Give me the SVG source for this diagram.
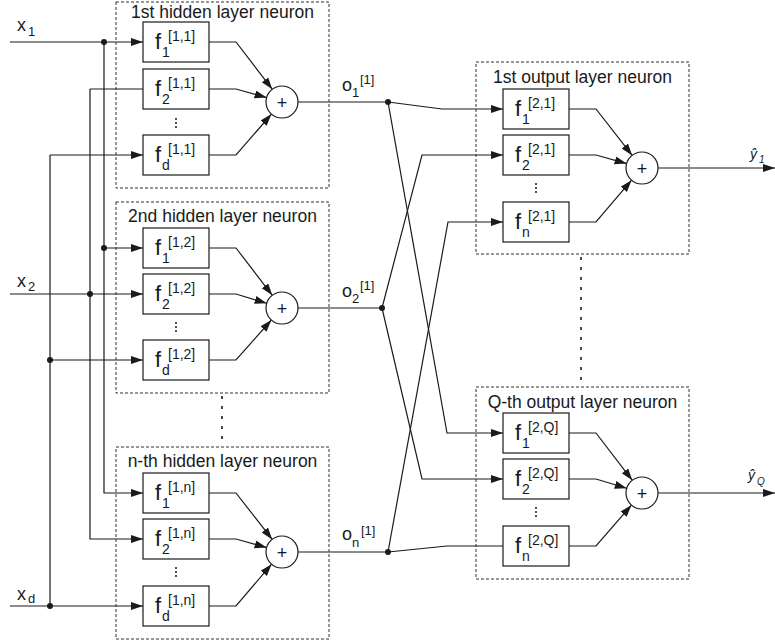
<svg xmlns="http://www.w3.org/2000/svg" width="775" height="643" viewBox="0 0 775 643">
<defs>
<marker id="ar" markerUnits="userSpaceOnUse" markerWidth="13" markerHeight="9" refX="12" refY="4" orient="auto">
<path d="M0,0 L12,4 L0,8 z" fill="#1a1a1a"/>
</marker>
<style>
text{font-family:"Liberation Sans",Arial,sans-serif;fill:#1a1a1a}
.lbl{font-size:17.5px;text-anchor:middle}
.grp{fill:none;stroke:#333;stroke-width:1;stroke-dasharray:3 2}
.fb{fill:#fff;stroke:#1a1a1a;stroke-width:1.2}
.sum{fill:#fff;stroke:#1a1a1a;stroke-width:1.2}
.ln{fill:none;stroke:#1a1a1a;stroke-width:1.2}
.arw{fill:none;stroke:#1a1a1a;stroke-width:1.2;marker-end:url(#ar)}
.dot{fill:#1a1a1a}
.vd{fill:none;stroke:#1a1a1a;stroke-width:1.5;stroke-dasharray:2 2}
.sep{fill:none;stroke:#1a1a1a;stroke-width:1.6;stroke-dasharray:3 7}
.f{font-size:22px}
.s{font-size:14px}
.plus{font-size:18px;text-anchor:middle}
.big{font-size:18px}
.sm{font-size:13px}
.yh{font-size:14px;font-style:italic}
.ys{font-size:10px;font-style:italic}
</style>
</defs>

<g id="connectors">
<path class="arw" d="M10,42 H143"/>
<path class="arw" d="M104,42 V493 H143"/>
<path class="arw" d="M104,248 H143"/>
<path class="ln" d="M90,89 H143"/>
<path class="arw" d="M90,89 V539 H143"/>
<path class="arw" d="M10,294 H143"/>
<path class="arw" d="M50,155 H143"/>
<path class="ln" d="M50,155 V606"/>
<path class="arw" d="M50,360 H143"/>
<path class="arw" d="M10,606 H143"/>
<circle class="dot" cx="104" cy="42" r="3"/>
<circle class="dot" cx="104" cy="248" r="3"/>
<circle class="dot" cx="90" cy="294" r="3"/>
<circle class="dot" cx="50" cy="360" r="3"/>
<circle class="dot" cx="50" cy="606" r="3"/>
<path class="arw" d="M209,42 H236 L272.3,89.3"/>
<path class="arw" d="M209,89 H236 L266.6,97.6"/>
<path class="arw" d="M209,155 H236 L271.5,114.1"/>
<path class="arw" d="M209,248 H236 L272.3,295.3"/>
<path class="arw" d="M209,294 H236 L266.7,303.3"/>
<path class="arw" d="M209,360 H236 L271.4,320"/>
<path class="arw" d="M209,493 H236 L272.2,539.4"/>
<path class="arw" d="M209,539 H236 L266.6,547.6"/>
<path class="arw" d="M209,606 H236 L271.6,564.2"/>
<path class="ln" d="M298,102 H388"/>
<path class="ln" d="M298,308 H382"/>
<path class="ln" d="M298,552 H388"/>
<path class="arw" d="M388,102 L442,109 H503"/>
<path class="arw" d="M388,102 L447,433 H503"/>
<path class="arw" d="M382,308 L422,155 H503"/>
<path class="arw" d="M382,308 L422,479 H503"/>
<path class="arw" d="M388,552 L448,222 H503"/>
<path class="ln" d="M388,552 L447,546 H503"/>
<circle class="dot" cx="388" cy="102" r="3"/>
<circle class="dot" cx="382" cy="308" r="3"/>
<circle class="dot" cx="388" cy="552" r="3"/>
<path class="arw" d="M569,109 H596 L632.2,155.4"/>
<path class="arw" d="M569,155 H596 L626.6,163.6"/>
<path class="arw" d="M569,222 H596 L631.6,180.2"/>
<path class="arw" d="M569,433 H596 L632.3,480.3"/>
<path class="arw" d="M569,479 H596 L626.7,488.3"/>
<path class="arw" d="M569,546 H596 L631.5,505.1"/>
<path class="arw" d="M658,168 H775"/>
<path class="arw" d="M658,493 H775"/>
<path class="sep" d="M222,396 V442"/>
<path class="sep" d="M581,257 V386"/>
</g>

<g id="input-labels">
<text x="17" y="31" class="big">x<tspan class="sm" x="28" y="36">1</tspan></text>
<text x="17" y="287" class="big">x<tspan class="sm" x="28" y="291">2</tspan></text>
<text x="17" y="600" class="big">x<tspan class="sm" x="28" y="603">d</tspan></text>
</g>

<g id="hidden1">
<rect class="grp" x="116" y="2" width="213" height="186"/>
<text class="lbl" x="222.5" y="18">1st hidden layer neuron</text>
<rect class="fb" x="143" y="22" width="66" height="40"/>
<text class="f" x="155" y="49">f<tspan class="s" x="162" y="57">1</tspan><tspan class="s" x="168" y="41">[1,1]</tspan></text>
<rect class="fb" x="143" y="69" width="66" height="40"/>
<text class="f" x="155" y="96">f<tspan class="s" x="162" y="104">2</tspan><tspan class="s" x="168" y="88">[1,1]</tspan></text>
<path class="vd" d="M176,118 V129"/>
<rect class="fb" x="143" y="135" width="66" height="40"/>
<text class="f" x="155" y="162">f<tspan class="s" x="162" y="170">d</tspan><tspan class="s" x="168" y="154">[1,1]</tspan></text>
<circle class="sum" cx="282" cy="102" r="16"/>
<text class="plus" x="282" y="108.5">+</text>
</g>

<g id="hidden2">
<rect class="grp" x="116" y="202" width="213" height="191"/>
<text class="lbl" x="222.5" y="222">2nd hidden layer neuron</text>
<rect class="fb" x="143" y="228" width="66" height="40"/>
<text class="f" x="155" y="255">f<tspan class="s" x="162" y="263">1</tspan><tspan class="s" x="168" y="247">[1,2]</tspan></text>
<rect class="fb" x="143" y="274" width="66" height="40"/>
<text class="f" x="155" y="301">f<tspan class="s" x="162" y="309">2</tspan><tspan class="s" x="168" y="293">[1,2]</tspan></text>
<path class="vd" d="M176,322 V334"/>
<rect class="fb" x="143" y="340" width="66" height="40"/>
<text class="f" x="155" y="367">f<tspan class="s" x="162" y="375">d</tspan><tspan class="s" x="168" y="359">[1,2]</tspan></text>
<circle class="sum" cx="282" cy="308" r="16"/>
<text class="plus" x="282" y="314.5">+</text>
</g>

<g id="hidden3">
<rect class="grp" x="116" y="447" width="213" height="192"/>
<text class="lbl" x="222.5" y="467">n-th hidden layer neuron</text>
<rect class="fb" x="143" y="473" width="66" height="40"/>
<text class="f" x="155" y="500">f<tspan class="s" x="162" y="508">1</tspan><tspan class="s" x="168" y="492">[1,n]</tspan></text>
<rect class="fb" x="143" y="519" width="66" height="40"/>
<text class="f" x="155" y="546">f<tspan class="s" x="162" y="554">2</tspan><tspan class="s" x="168" y="538">[1,n]</tspan></text>
<path class="vd" d="M176,567 V579"/>
<rect class="fb" x="143" y="586" width="66" height="40"/>
<text class="f" x="155" y="613">f<tspan class="s" x="162" y="621">d</tspan><tspan class="s" x="168" y="605">[1,n]</tspan></text>
<circle class="sum" cx="282" cy="552" r="16"/>
<text class="plus" x="282" y="558.5">+</text>
</g>

<g id="hidden-output-labels">
<text x="342" y="91" class="big">o<tspan class="sm" x="352" y="97">1</tspan><tspan class="sm" x="360" y="84">[1]</tspan></text>
<text x="342" y="297" class="big">o<tspan class="sm" x="352" y="303">2</tspan><tspan class="sm" x="360" y="290">[1]</tspan></text>
<text x="342" y="540" class="big">o<tspan class="sm" x="352" y="547">n</tspan><tspan class="sm" x="361" y="535">[1]</tspan></text>
</g>

<g id="output1">
<rect class="grp" x="476" y="62" width="213" height="192"/>
<text class="lbl" x="582.5" y="83">1st output layer neuron</text>
<rect class="fb" x="503" y="89" width="66" height="40"/>
<text class="f" x="515" y="116">f<tspan class="s" x="522" y="124">1</tspan><tspan class="s" x="528" y="108">[2,1]</tspan></text>
<rect class="fb" x="503" y="135" width="66" height="40"/>
<text class="f" x="515" y="162">f<tspan class="s" x="522" y="170">2</tspan><tspan class="s" x="528" y="154">[2,1]</tspan></text>
<path class="vd" d="M536,183 V195"/>
<rect class="fb" x="503" y="202" width="66" height="40"/>
<text class="f" x="515" y="229">f<tspan class="s" x="522" y="237">n</tspan><tspan class="s" x="528" y="221">[2,1]</tspan></text>
<circle class="sum" cx="642" cy="168" r="16"/>
<text class="plus" x="642" y="174.5">+</text>
<text x="750" y="159" class="yh">ŷ<tspan class="ys" x="759" y="163">1</tspan></text>
</g>

<g id="outputQ">
<rect class="grp" x="476" y="387" width="213" height="192"/>
<text class="lbl" x="582.5" y="408">Q-th output layer neuron</text>
<rect class="fb" x="503" y="413" width="66" height="40"/>
<text class="f" x="515" y="440">f<tspan class="s" x="522" y="448">1</tspan><tspan class="s" x="528" y="432">[2,Q]</tspan></text>
<rect class="fb" x="503" y="459" width="66" height="40"/>
<text class="f" x="515" y="486">f<tspan class="s" x="522" y="494">2</tspan><tspan class="s" x="528" y="478">[2,Q]</tspan></text>
<path class="vd" d="M536,507 V519"/>
<rect class="fb" x="503" y="526" width="66" height="40"/>
<text class="f" x="515" y="553">f<tspan class="s" x="522" y="561">n</tspan><tspan class="s" x="528" y="545">[2,Q]</tspan></text>
<circle class="sum" cx="642" cy="493" r="16"/>
<text class="plus" x="642" y="499.5">+</text>
<text x="748" y="480" class="yh">ŷ<tspan class="ys" x="757" y="485">Q</tspan></text>
</g>
</svg>
